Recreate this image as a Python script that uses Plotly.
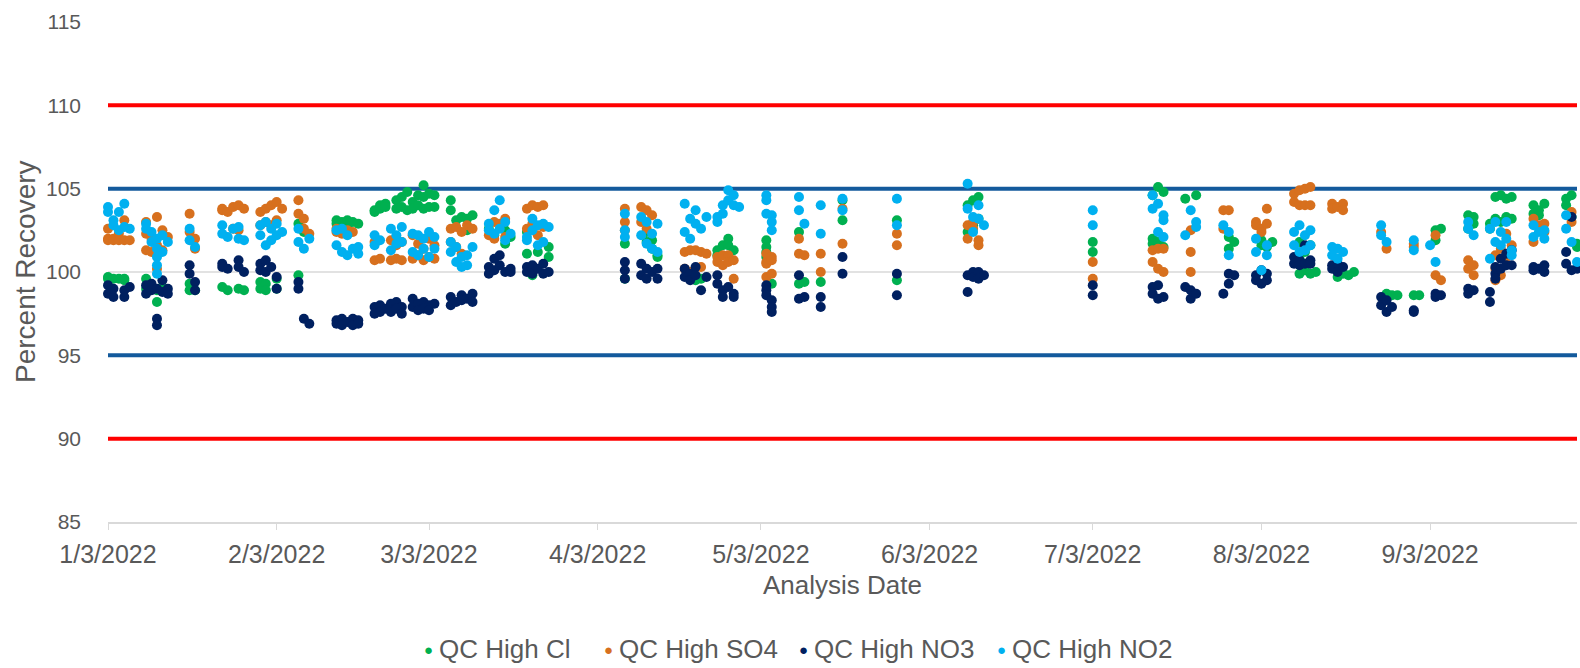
import plotly.graph_objects as go

# ---- QC recovery data: analysis date -> recovered percentages ----
cl_dates = ["1/3", "1/4", "1/5", "1/6", "1/10", "1/12", "1/13", "1/18", "1/19", "1/24", "1/25", "1/27", "1/28",
            "1/31", "2/1", "2/3", "2/7", "2/8", "2/14", "2/15", "2/16", "2/17", "2/18", "2/21", "2/22", "2/23",
            "2/25", "2/26", "2/27", "2/28", "3/1", "3/2", "3/3", "3/4", "3/7", "3/8", "3/9", "3/10", "3/11",
            "3/14", "3/15", "3/17", "3/18", "3/21", "3/22", "3/23", "3/25", "4/8", "4/12", "4/13", "4/14",
            "4/20", "4/21", "4/22", "4/25", "4/26", "4/27", "4/28", "5/4", "5/5", "5/10", "5/11", "5/14",
            "5/18", "5/28", "6/10", "6/11", "6/12", "7/3", "7/14", "7/15", "7/16", "7/20", "7/22", "7/28",
            "7/29", "8/3", "8/4", "8/5", "8/10", "8/11", "8/12", "8/13", "8/17", "8/18", "8/19", "8/20",
            "8/26", "8/27", "8/28", "8/31", "9/1", "9/4", "9/5", "9/10", "9/11", "9/14", "9/15", "9/16",
            "9/17", "9/18", "9/22", "9/23", "9/24", "9/28", "9/29", "9/30"]
cl_values = [[99.7, 99.6], [99.6], [99.6], [99.6, 99.5], [99.6, 99.0], [98.9, 98.2], [99.1], [99.3, 98.9], [98.9],
             [99.1], [98.9], [99.0], [98.9], [99.4, 99.0], [99.3, 98.9], [99.6, 99.0], [99.8, 102.9], [102.4],
             [103.1, 102.9], [103.0], [103.1, 102.8], [103.0], [102.9], [103.7, 103.6], [104.0, 103.8],
             [104.1, 103.9], [104.3, 103.8], [104.5, 103.9], [104.8, 103.7], [104.2, 103.8], [104.6, 104.0],
             [105.2, 104.5, 103.8], [104.7, 103.9], [104.6, 103.9], [104.3, 103.7], [103.1], [103.3],
             [103.2, 102.5], [103.4], [102.6], [102.2], [102.5, 101.7], [102.1], [102.4, 101.1], [99.8],
             [101.2], [101.5, 100.9], [101.7, 99.6], [102.4, 101.8], [101.4, 101.9], [101.0, 100.9], [99.7],
             [99.5], [99.6], [101.0, 101.3], [101.6], [102.0, 101.6], [101.3], [101.9, 101.5, 101.2, 100.9],
             [99.3], [102.4, 99.3], [99.4], [99.4], [104.3, 103.1], [103.1, 99.5], [104.0, 102.4],
             [104.3, 102.8], [104.5, 103.2], [101.8, 101.2], [104.6, 102.0, 101.7], [105.1, 101.8],
             [104.8, 101.5], [104.4], [104.6], [102.1, 101.4], [101.8], [101.9, 101.6], [101.5], [101.8],
             [101.8, 100.8, 99.9], [101.2, 100.1], [101.6, 99.9], [100.0], [99.7], [99.9], [99.8], [100.0],
             [98.7], [98.6], [98.6], [98.6], [98.6], [102.5, 101.9], [102.6], [103.4, 102.6], [103.3, 102.9],
             [102.9, 102.6], [104.5, 103.2], [104.6, 103.0], [104.4, 103.3], [104.5, 103.2], [104.0, 103.5],
             [103.7, 103.4], [104.1], [104.4, 104.0], [104.6, 103.3], [101.7, 101.5]]

so4_dates = ["1/3", "1/4", "1/5", "1/6", "1/7", "1/10", "1/11", "1/12", "1/13", "1/14", "1/18", "1/19", "1/24",
             "1/25", "1/26", "1/27", "1/28", "1/31", "2/1", "2/2", "2/3", "2/4", "2/7", "2/8", "2/9", "2/14",
             "2/15", "2/16", "2/17", "2/21", "2/22", "2/24", "2/25", "2/26", "2/28", "3/1", "3/2", "3/3", "3/4",
             "3/7", "3/8", "3/9", "3/10", "3/11", "3/14", "3/15", "3/16", "3/17", "3/21", "3/22", "3/23", "3/24",
             "4/8", "4/11", "4/12", "4/13", "4/19", "4/20", "4/21", "4/22", "4/23", "4/25", "4/26", "4/27",
             "4/28", "5/4", "5/5", "5/10", "5/11", "5/14", "5/18", "5/28", "6/10", "6/11", "6/12", "7/3",
             "7/14", "7/15", "7/16", "7/21", "7/27", "7/28", "8/2", "8/3", "8/4", "8/9", "8/10", "8/11", "8/12",
             "8/16", "8/17", "8/18", "8/25", "8/26", "8/31", "9/4", "9/5", "9/10", "9/11", "9/15", "9/16",
             "9/17", "9/18", "9/22", "9/23", "9/24", "9/29"]
so4_values = [[102.6, 102.0, 101.9], [102.0, 101.9], [101.9, 102.3], [103.1, 101.9], [101.9],
              [103.0, 102.3, 101.3], [102.0, 101.2], [103.3, 101.6, 100.2], [102.5, 101.3], [102.1],
              [103.5, 102.4], [101.4, 102.0], [103.7, 103.8], [103.6], [102.6, 103.9], [104.0, 102.5], [103.8],
              [103.6, 102.8], [103.8, 103.0], [104.0, 102.8], [104.2, 103.1], [103.8], [104.3, 103.5],
              [103.2, 102.6], [102.3], [102.6, 102.4], [102.3, 102.5], [102.5, 102.3], [102.4], [101.8, 100.7],
              [100.8], [101.9, 100.7], [101.6, 100.8], [101.8, 100.7], [102.2, 100.8], [101.7, 101.0],
              [101.4, 100.7], [102.0, 100.9], [101.6, 100.8], [102.6, 101.8], [102.7, 101.5], [102.4, 101.1],
              [102.8], [102.6], [102.2], [103.0, 102.0], [102.9], [103.2, 102.1], [103.8, 102.6], [104.0, 102.9],
              [103.9, 102.2], [104.0, 102.7], [103.8, 103.0, 102.5], [103.9, 103.0], [103.7, 102.6], [103.4],
              [101.2, 100.2], [101.3, 100.0], [101.3], [101.2, 100.3], [101.1], [100.9, 100.6], [101.0, 100.4],
              [101.0, 100.6], [100.7, 99.6], [101.1, 100.6, 100.5, 99.7], [100.9, 100.7, 99.9], [102.0, 101.1],
              [101.0], [101.1, 100.0], [103.8, 101.7], [102.3, 101.6], [102.8, 102.0], [103.0, 102.6],
              [101.9, 101.6], [100.6, 99.6], [101.3, 100.6], [100.2, 101.4], [101.4, 100.0],
              [102.5, 101.2, 100.0], [103.7, 102.6], [103.7], [103.0, 102.8], [102.6, 102.4], [103.8, 102.9],
              [104.7, 104.2], [104.0, 104.9], [104.0, 105.0], [105.1, 104.0], [104.1, 103.8], [103.9],
              [104.1, 103.7], [102.4], [101.4], [101.5, 101.7], [102.2, 99.8], [99.5], [100.7, 100.2],
              [99.8, 100.4], [101.0, 100.2, 99.5], [101.4, 99.8], [102.3, 100.9], [101.6], [103.2, 101.8],
              [102.8], [102.9, 102.4], [103.6, 103.0]]

no3_dates = ["1/3", "1/4", "1/6", "1/7", "1/10", "1/11", "1/12", "1/13", "1/14", "1/18", "1/19", "1/24", "1/25",
             "1/27", "1/28", "1/31", "2/1", "2/2", "2/3", "2/7", "2/8", "2/9", "2/14", "2/15", "2/16", "2/17",
             "2/18", "2/21", "2/22", "2/23", "2/24", "2/25", "2/26", "2/28", "3/1", "3/2", "3/3", "3/4", "3/7",
             "3/8", "3/9", "3/10", "3/11", "3/14", "3/15", "3/16", "3/17", "3/18", "3/21", "3/22", "3/23",
             "3/24", "3/25", "4/8", "4/11", "4/12", "4/13", "4/14", "4/19", "4/20", "4/21", "4/22", "4/23",
             "4/25", "4/26", "4/27", "4/28", "5/4", "5/5", "5/10", "5/11", "5/14", "5/18", "5/28", "6/10",
             "6/11", "6/12", "6/13", "7/3", "7/14", "7/15", "7/16", "7/20", "7/21", "7/22", "7/27", "7/28",
             "7/29", "8/2", "8/3", "8/4", "8/9", "8/10", "8/11", "8/12", "8/16", "8/17", "8/18", "8/25", "8/26",
             "8/27", "8/31", "9/4", "9/5", "9/10", "9/11", "9/14", "9/15", "9/16", "9/17", "9/18", "9/22",
             "9/23", "9/24", "9/28", "9/29", "9/30"]
no3_values = [[99.2, 98.7], [98.5, 99.0], [98.9, 98.5], [99.1], [99.2, 98.7], [99.3, 98.9], [97.2, 96.8, 99.0],
              [98.8, 99.5], [99.0, 98.7], [100.4, 99.9], [99.4, 98.9], [100.5, 100.3], [100.2], [100.7, 100.3],
              [100.0], [100.5, 100.1], [100.7, 100.0], [100.3], [99.7, 99.0], [99.4, 99.0], [97.2], [96.9],
              [97.1, 96.9], [97.2, 96.8], [97.0], [97.2, 96.8], [97.1, 96.9], [97.9, 97.5], [98.0, 97.6],
              [97.8], [98.1, 97.6], [98.2, 97.8], [97.9, 97.5], [98.4, 97.9], [98.1, 97.7], [98.2, 97.8],
              [98.0, 97.7], [98.1], [98.5, 98.0], [98.2], [98.6, 98.3], [98.4], [98.7, 98.2], [100.3, 99.9],
              [100.8, 100.1], [101.0, 100.4], [100.0], [100.2, 100.0], [100.3, 100.0], [100.4, 99.9], [100.2],
              [100.5, 99.9], [100.0], [100.6, 100.1, 99.6], [100.5, 99.8], [100.2, 99.6], [100.0],
              [100.2, 99.6], [100.2, 99.7], [99.9, 99.5], [100.3, 99.8], [98.9], [99.7], [99.8, 99.3],
              [98.9, 98.5], [99.1], [98.7, 98.5], [99.2, 98.9, 98.6], [98.3, 97.9, 97.6], [99.8, 98.4], [98.5],
              [98.5, 97.9], [100.9, 99.9], [99.9, 98.6], [99.8, 98.8], [100.0, 99.7], [100.0, 99.6], [99.8],
              [99.2, 98.6], [99.1, 98.7], [98.4, 99.2], [98.5], [99.1], [98.9, 98.4], [98.7], [98.7],
              [99.3, 99.9], [99.8], [99.8, 99.5], [100.1, 99.3], [99.5, 99.9], [100.9, 100.5], [100.7, 100.4],
              [101.6, 100.5], [100.7, 100.5], [100.4, 100.2], [100.5, 100.0], [100.3], [98.5, 98.0],
              [97.6, 98.3], [97.9], [97.7, 97.6], [98.7, 98.5], [98.6], [99.0, 98.7], [98.9], [98.8, 98.2],
              [100.3, 99.9, 99.6], [100.8, 100.2], [101.1, 100.4], [101.3, 100.4], [100.3, 100.1], [100.2],
              [100.4, 100.0], [101.2, 100.5], [103.3, 100.1], [100.2]]

no2_dates = ["1/3", "1/4", "1/5", "1/6", "1/7", "1/10", "1/11", "1/12", "1/13", "1/14", "1/18", "1/19", "1/24",
             "1/25", "1/26", "1/27", "1/28", "1/31", "2/1", "2/2", "2/3", "2/4", "2/7", "2/8", "2/9", "2/14",
             "2/15", "2/16", "2/17", "2/18", "2/21", "2/22", "2/24", "2/25", "2/26", "2/28", "3/1", "3/2", "3/3",
             "3/4", "3/7", "3/8", "3/9", "3/10", "3/11", "3/14", "3/15", "3/16", "3/17", "3/18", "3/21", "3/22",
             "3/23", "3/24", "3/25", "4/8", "4/11", "4/12", "4/13", "4/14", "4/19", "4/20", "4/21", "4/22",
             "4/23", "4/25", "4/26", "4/27", "4/28", "4/29", "5/4", "5/5", "5/10", "5/11", "5/14", "5/18",
             "5/28", "6/10", "6/11", "6/12", "6/13", "7/3", "7/14", "7/15", "7/16", "7/20", "7/21", "7/22",
             "7/27", "7/28", "8/2", "8/3", "8/4", "8/9", "8/10", "8/11", "8/12", "8/16", "8/17", "8/18", "8/25",
             "8/26", "8/31", "9/3", "9/4", "9/10", "9/11", "9/14", "9/15", "9/16", "9/17", "9/18", "9/22",
             "9/23", "9/24", "9/28", "9/29", "9/30"]
no2_values = [[103.9, 103.6], [103.1, 102.8], [103.6, 102.5], [104.1, 102.7], [102.6], [102.9, 102.6],
              [101.8, 102.4], [102.0, 101.4, 100.9, 100.4, 99.9], [102.2, 101.2], [101.8], [102.6, 101.9],
              [101.5], [102.8, 102.3], [102.1], [102.6], [102.7, 102.0], [101.9], [102.8, 102.2], [103.0, 101.6],
              [102.6, 101.9], [102.9, 102.2], [102.4], [102.6, 101.8], [101.4], [102.0], [102.5, 101.6],
              [102.6, 101.2], [102.2, 101.0], [101.4], [101.1, 101.5], [102.2, 101.6], [101.9], [102.6, 101.3],
              [102.2, 101.7], [102.7, 101.8], [102.3, 101.2], [102.2, 101.0], [102.0, 101.4], [102.4, 100.9],
              [102.1, 101.4], [101.8, 101.2], [100.6, 101.5], [100.3, 100.9], [101.0, 100.4], [101.5],
              [102.9, 102.5], [103.7, 102.3], [104.3, 102.6], [103.0, 101.9], [102.3], [102.1, 101.9],
              [103.2, 102.5], [102.8, 101.6], [102.9, 101.8], [102.7], [103.5, 102.5, 102.1], [103.3, 102.2],
              [103.0, 101.7], [102.3, 101.4], [102.9, 101.2], [104.1, 102.4], [103.2, 102.0], [103.7, 102.9],
              [102.6], [103.3], [103.0, 103.3], [103.5, 104.0], [104.3, 104.9], [104.6, 104.0], [103.9],
              [104.6, 104.3, 103.5], [103.4, 103.0, 102.5], [104.5, 103.7], [102.9], [104.0, 102.3],
              [104.4, 103.7], [104.4, 102.8], [105.3, 103.8], [103.3, 102.4], [104.0, 103.2], [102.8],
              [103.7, 102.8], [104.6, 103.8], [104.1, 102.4], [103.4, 103.1, 102.1], [102.2], [103.7],
              [103.0, 102.7], [102.8], [102.4, 101.0], [101.2, 102.0], [100.1], [101.0, 101.6], [102.4, 101.6],
              [102.8, 101.2], [102.2, 101.3], [102.5, 101.6], [101.5, 101.0], [101.4, 100.8], [101.2],
              [102.8, 102.2], [101.8], [101.9, 101.3], [101.6], [100.6], [103.0, 102.6], [102.2], [100.8, 102.6],
              [103.0, 101.8], [102.4, 101.6], [103.0, 102.0], [101.3, 101.0], [102.8, 102.1], [102.4],
              [102.5, 102.0], [103.4, 102.6], [101.8], [100.6]]

series_names = ["QC High Cl", "QC High SO4", "QC High NO3", "QC High NO2"]
series_colors = ["#00B050", "#D7701E", "#002060", "#00B0F0"]

# acceptance limits (percent recovery)
warning_limits = [95, 105]
control_limits = [90, 110]

tick_dates = ["2022-01-03", "2022-02-03", "2022-03-03", "2022-04-03", "2022-05-03",
              "2022-06-03", "2022-07-03", "2022-08-03", "2022-09-03"]
tick_labels = ["1/3/2022", "2/3/2022", "3/3/2022", "4/3/2022", "5/3/2022",
               "6/3/2022", "7/3/2022", "8/3/2022", "9/3/2022"]


def expand(dates, values):
    xs, ys = [], []
    for d, vals in zip(dates, values):
        m, day = d.split("/")
        iso = f"2022-{int(m):02d}-{int(day):02d}"
        for v in vals:
            xs.append(iso)
            ys.append(v)
    return xs, ys


fig = go.Figure()

all_series = [(cl_dates, cl_values), (so4_dates, so4_values),
              (no3_dates, no3_values), (no2_dates, no2_values)]
for (dates, vals), name, color in zip(all_series, series_names, series_colors):
    xs, ys = expand(dates, vals)
    fig.add_trace(go.Scatter(x=xs, y=ys, mode="markers", name=name,
                             marker=dict(color=color, size=10, line=dict(width=0)),
                             cliponaxis=False))

# reference line at 100 %
fig.add_shape(type="line", xref="paper", x0=0, x1=1, yref="y", y0=100, y1=100,
              line=dict(color="#D9D9D9", width=1.5), layer="below")
for v in warning_limits:
    fig.add_shape(type="line", xref="paper", x0=0, x1=1, yref="y", y0=v, y1=v,
                  line=dict(color="#135A9C", width=4), layer="below")
for v in control_limits:
    fig.add_shape(type="line", xref="paper", x0=0, x1=1, yref="y", y0=v, y1=v,
                  line=dict(color="#FF0000", width=4), layer="below")

grey = "#595959"
font_family = "Liberation Sans, Arial, sans-serif"

# axis titles
fig.add_annotation(text="Percent Recovery", xref="paper", yref="paper", x=-0.0565, y=0.5,
                   xanchor="center", yanchor="middle", textangle=-90, showarrow=False,
                   font=dict(size=28, color=grey))
fig.add_annotation(text="Analysis Date", xref="paper", yref="paper", x=0.5, y=-0.126,
                   xanchor="center", yanchor="middle", showarrow=False,
                   font=dict(size=26, color=grey))

# series key along the bottom edge: a coloured dot followed by the series name
key_left_px = [428, 608, 803, 1001]
key_y = -0.254
for name, color, px in zip(series_names, series_colors, key_left_px):
    fig.add_annotation(text="●", xref="paper", yref="paper", x=(px - 108) / 1469, y=key_y,
                       xanchor="center", yanchor="middle", showarrow=False,
                       font=dict(size=15, color=color))
    fig.add_annotation(text=name, xref="paper", yref="paper", x=(px + 10 - 108) / 1469, y=key_y,
                       xanchor="left", yanchor="middle", showarrow=False, borderpad=0,
                       font=dict(size=26, color=grey))

fig.update_layout(
    width=1580, height=668,
    margin=dict(l=108, r=3, t=22, b=146, autoexpand=False),
    paper_bgcolor="white", plot_bgcolor="white",
    font=dict(family=font_family, color=grey, size=20),
    showlegend=False,
    xaxis=dict(
        type="date", range=["2022-01-03", "2022-09-30"],
        tickmode="array", tickvals=tick_dates, ticktext=tick_labels,
        showgrid=False, zeroline=False, automargin=False,
        showline=True, linecolor="#D9D9D9", linewidth=1.5,
        ticks="outside", ticklen=6, tickcolor="#D9D9D9",
        tickfont=dict(size=25, color=grey), ticklabelstandoff=3,
    ),
    yaxis=dict(
        range=[85, 115], tickmode="array", tickvals=[85, 90, 95, 100, 105, 110, 115],
        showgrid=False, zeroline=False, showline=False, automargin=False,
        tickfont=dict(size=21, color=grey), ticks="", ticklabelstandoff=26,
    ),
)

fig.write_html("out.html")
